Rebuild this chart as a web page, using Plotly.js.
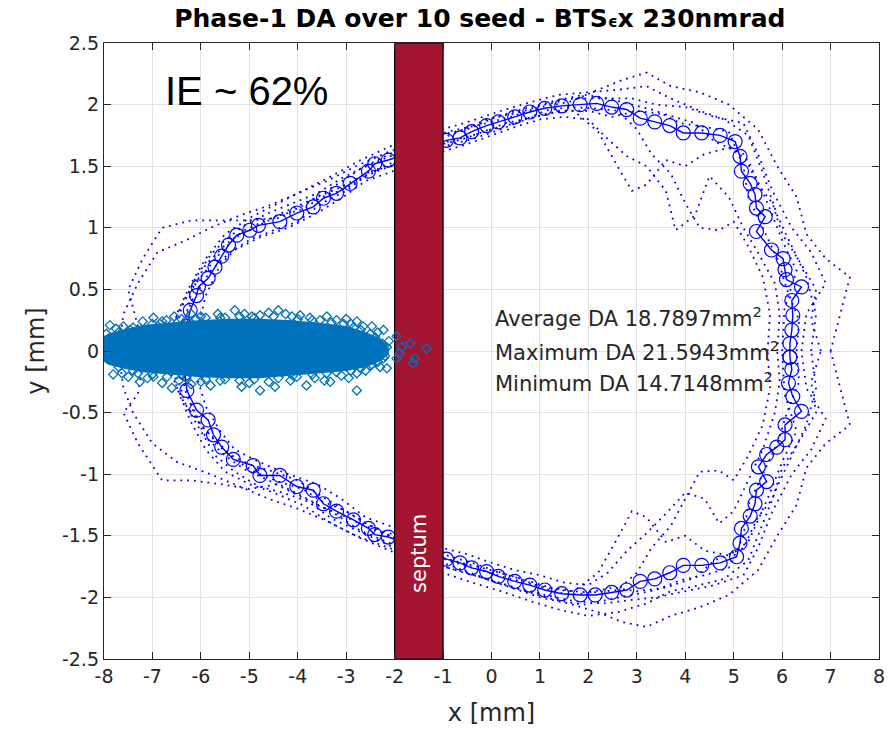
<!DOCTYPE html>
<html>
<head>
<meta charset="utf-8">
<script src="https://cdn.plot.ly/plotly-3.0.1.min.js"></script>
<style>html,body{margin:0;padding:0;background:#fff;}#chart{width:891px;height:731px;}</style>
</head>
<body>
<div id="chart"></div>
<script>
// ---- Data ----
var titleText = "Phase-1 DA over 10 seed - BTS<span style='font-size:0.6em'>ϵ</span>x 230nmrad";
var xTicks = [-8,-7,-6,-5,-4,-3,-2,-1,0,1,2,3,4,5,6,7,8];
var yTicks = [-2.5,-2,-1.5,-1,-0.5,0,0.5,1,1.5,2,2.5];
var statLabels = ["Average DA 18.7897mm<sup>2</sup>", "Maximum DA 21.5943mm<sup>2</sup>", "Minimum DA 14.7148mm<sup>2</sup>"];
var ieLabel = "IE ~ 62%";
var septumX = [-2, -1];

// average DA over seeds (x, y in mm)
var avgX = [6.16,6.16,6.20,6.22,6.20,6.40,6.09,6.06,6.02,5.78,5.47,5.65,5.47,5.44,5.34,5.16,5.13,5.03,4.72,4.34,3.96,3.68,3.37,3.07,2.79,2.48,2.17,1.83,1.45,1.10,0.79,0.48,0.14,-0.10,-0.41,-0.65,-0.93,-1.5,-2.13,-2.41,-2.54,-2.92,-3.20,-3.47,-3.68,-4.02,-4.37,-4.81,-4.99,-5.26,-5.43,-5.57,-5.71,-5.85,-6.05,-6.09,-6.22,-6.30,-6.35,-6.35,-6.33,-6.29,-6.09,-5.85,-5.74,-5.57,-5.33,-4.92,-4.78,-4.37,-4.02,-3.68,-3.47,-3.20,-2.85,-2.54,-2.41,-2.13,-1.5,-0.93,-0.65,-0.41,-0.10,0.14,0.48,0.79,1.10,1.45,1.83,2.14,2.48,2.79,3.07,3.37,3.68,3.96,4.34,4.72,5.06,5.13,5.16,5.34,5.44,5.47,5.68,5.51,5.68,5.89,6.06,6.06,6.40,6.22,6.13,6.20,6.16];
var avgY = [-0.05,0.06,0.17,0.29,0.41,0.52,0.58,0.66,0.75,0.82,0.97,1.09,1.16,1.27,1.36,1.46,1.58,1.70,1.75,1.77,1.77,1.83,1.86,1.89,1.96,1.98,2.01,2.00,1.99,1.97,1.94,1.90,1.86,1.83,1.78,1.73,1.71,1.63,1.55,1.52,1.46,1.36,1.28,1.24,1.17,1.12,1.05,1.02,0.98,0.94,0.86,0.77,0.68,0.59,0.52,0.45,0.33,0.20,0.08,-0.05,-0.18,-0.32,-0.48,-0.56,-0.68,-0.78,-0.88,-0.93,-1.01,-1.01,-1.10,-1.13,-1.24,-1.30,-1.37,-1.44,-1.49,-1.51,-1.60,-1.69,-1.72,-1.76,-1.79,-1.83,-1.87,-1.90,-1.94,-1.97,-1.98,-1.98,-1.96,-1.94,-1.87,-1.85,-1.80,-1.74,-1.74,-1.72,-1.67,-1.56,-1.44,-1.34,-1.24,-1.13,-1.06,-0.94,-0.84,-0.78,-0.72,-0.60,-0.49,-0.37,-0.26,-0.15,-0.05];

// individual seeds (x, y pairs in mm)
var seedA = [[6.6,0],[6.7,0.3],[6.5,0.6],[6.2,0.85],[5.9,1.1],[5.6,1.45],[5.3,1.75],[4.8,1.88],[4.3,1.95],[3.7,2.05],[3.2,2.15],[2.6,2.12],[2.0,2.1],[1.4,2.08],[0.8,2.02],[0.2,1.95],[-0.4,1.87],[-1.0,1.8],[-2.1,1.66],[-2.7,1.55],[-3.3,1.42],[-3.9,1.3],[-4.5,1.18],[-5.0,1.08],[-5.5,0.95],[-5.9,0.75],[-6.2,0.55],[-6.5,0.3],[-6.6,0],[-6.5,-0.3],[-6.2,-0.58],[-5.9,-0.8],[-5.5,-0.98],[-5.0,-1.08],[-4.5,-1.15],[-3.9,-1.25],[-3.3,-1.4],[-2.7,-1.52],[-2.1,-1.62],[-1.0,-1.8],[-0.4,-1.88],[0.2,-1.95],[0.8,-2.03],[1.4,-2.1],[2.0,-2.15],[2.6,-2.12],[3.2,-2.05],[3.7,-1.95],[4.3,-1.9],[4.8,-1.85],[5.3,-1.7],[5.6,-1.4],[5.9,-1.1],[6.2,-0.85],[6.5,-0.6],[6.7,-0.3],[6.6,0]];
var seedB = [[5.9,0],[5.95,0.3],[5.85,0.55],[5.5,0.8],[5.2,1.0],[4.9,1.25],[4.5,1.42],[4.2,1.1],[3.8,0.98],[3.6,1.3],[3.2,1.5],[2.8,1.58],[2.4,1.72],[2.0,1.88],[1.5,1.9],[1.0,1.88],[0.5,1.82],[0,1.75],[-0.5,1.68],[-1.0,1.62],[-2.1,1.45],[-2.6,1.38],[-3.1,1.24],[-3.6,1.12],[-4.2,1.0],[-4.8,0.92],[-5.3,0.82],[-5.6,0.7],[-5.9,0.45],[-6.05,0.2],[-6.1,0],[-6.05,-0.25],[-5.9,-0.45],[-5.6,-0.65],[-5.3,-0.8],[-4.8,-0.9],[-4.2,-1.0],[-3.6,-1.08],[-3.1,-1.2],[-2.6,-1.35],[-2.1,-1.42],[-1.0,-1.6],[-0.5,-1.65],[0,-1.72],[0.5,-1.78],[1.0,-1.82],[1.5,-1.88],[2.0,-1.9],[2.4,-1.8],[2.8,-1.62],[3.2,-1.48],[3.6,-1.32],[4.0,-1.15],[4.4,-1.2],[4.7,-1.4],[5.0,-1.3],[5.3,-1.05],[5.6,-0.8],[5.85,-0.5],[5.95,-0.25],[5.9,0]];
var seedC = [[7.0,0],[7.2,0.3],[7.4,0.6],[6.9,0.75],[6.5,0.95],[6.3,1.25],[5.9,1.5],[5.5,1.8],[4.9,2.0],[4.3,2.1],[3.7,2.15],[3.2,2.26],[2.7,2.2],[2.2,2.12],[1.6,2.02],[1.0,1.98],[0.4,1.9],[-0.2,1.84],[-0.9,1.78],[-2.1,1.62],[-2.8,1.5],[-3.4,1.38],[-4.0,1.28],[-4.6,1.18],[-5.2,1.1],[-5.8,1.0],[-6.3,0.9],[-6.9,0.8],[-7.3,0.55],[-7.6,0.3],[-7.7,0],[-7.6,-0.3],[-7.4,-0.5],[-7.0,-0.75],[-6.5,-0.9],[-5.8,-1.0],[-5.2,-1.1],[-4.6,-1.2],[-4.0,-1.28],[-3.4,-1.38],[-2.8,-1.5],[-2.1,-1.6],[-0.9,-1.76],[-0.2,-1.84],[0.4,-1.92],[1.0,-2.0],[1.6,-2.05],[2.2,-2.12],[2.7,-2.2],[3.2,-2.24],[3.7,-2.15],[4.3,-2.08],[4.9,-1.98],[5.5,-1.78],[5.9,-1.5],[6.3,-1.25],[6.5,-0.95],[6.9,-0.75],[7.4,-0.6],[7.2,-0.3],[7.0,0]];
var seedD = [[6.0,0],[6.05,0.35],[6.3,0.65],[6.0,0.9],[5.7,1.2],[5.3,1.55],[4.9,1.65],[4.4,1.6],[4.0,1.5],[3.6,1.55],[3.2,1.35],[2.9,1.3],[2.6,1.5],[2.2,1.78],[1.7,1.95],[1.2,1.93],[0.7,1.88],[0.2,1.8],[-0.4,1.72],[-1.0,1.66],[-2.1,1.5],[-2.6,1.42],[-3.0,1.3],[-3.5,1.2],[-4.0,1.05],[-4.5,0.98],[-5.0,0.9],[-5.4,0.8],[-5.8,0.65],[-6.2,0.4],[-6.4,0.15],[-6.45,-0.1],[-6.3,-0.35],[-6.0,-0.6],[-5.5,-0.82],[-5.0,-0.92],[-4.5,-0.98],[-4.0,-1.05],[-3.5,-1.18],[-3.0,-1.3],[-2.6,-1.4],[-2.1,-1.48],[-1.0,-1.65],[-0.4,-1.72],[0.2,-1.8],[0.7,-1.86],[1.2,-1.92],[1.7,-1.95],[2.2,-1.8],[2.6,-1.52],[2.9,-1.3],[3.2,-1.35],[3.6,-1.55],[4.0,-1.5],[4.4,-1.62],[4.9,-1.66],[5.3,-1.55],[5.7,-1.2],[6.0,-0.9],[6.3,-0.65],[6.05,-0.35],[6.0,0]];
var seedE = [[6.4,0],[6.5,0.3],[6.9,0.55],[6.6,0.8],[6.2,1.0],[5.8,1.3],[5.5,1.6],[5.2,1.85],[4.6,1.9],[4.0,1.98],[3.4,2.0],[2.9,2.05],[2.3,2.05],[1.7,2.05],[1.1,2.0],[0.5,1.93],[-0.1,1.88],[-0.8,1.76],[-2.1,1.58],[-2.7,1.48],[-3.2,1.35],[-3.8,1.2],[-4.4,1.08],[-5.0,1.06],[-5.6,1.06],[-6.2,1.06],[-6.8,1.0],[-7.2,0.75],[-7.5,0.5],[-7.3,0.2],[-7.2,-0.1],[-7.3,-0.35],[-7.6,-0.5],[-7.3,-0.75],[-6.8,-1.05],[-6.2,-1.05],[-5.6,-1.08],[-5.0,-1.12],[-4.4,-1.08],[-3.8,-1.2],[-3.2,-1.33],[-2.7,-1.46],[-2.1,-1.56],[-0.8,-1.75],[-0.1,-1.85],[0.5,-1.92],[1.1,-1.98],[1.7,-2.03],[2.3,-2.05],[2.9,-2.02],[3.4,-2.0],[4.0,-1.95],[4.6,-1.9],[5.2,-1.82],[5.5,-1.6],[5.8,-1.3],[6.2,-1.0],[6.6,-0.8],[6.9,-0.55],[6.5,-0.3],[6.4,0]];
var seedF = [[6.3,0],[6.35,0.25],[6.1,0.5],[5.9,0.75],[5.6,1.0],[5.3,1.25],[5.2,1.5],[4.9,1.78],[4.4,1.82],[3.9,1.85],[3.4,1.95],[2.9,2.0],[2.4,2.05],[1.9,2.08],[1.3,2.03],[0.7,1.97],[0.1,1.9],[-0.5,1.8],[-1.0,1.76],[-2.1,1.6],[-2.6,1.5],[-3.1,1.4],[-3.6,1.28],[-4.1,1.2],[-4.6,1.12],[-5.1,1.02],[-5.5,0.9],[-5.8,0.78],[-6.1,0.6],[-6.4,0.35],[-6.55,0.1],[-6.5,-0.2],[-6.3,-0.45],[-6.0,-0.65],[-5.7,-0.85],[-5.3,-0.98],[-4.8,-1.1],[-4.3,-1.15],[-3.8,-1.22],[-3.3,-1.36],[-2.8,-1.45],[-2.1,-1.58],[-1.0,-1.75],[-0.5,-1.8],[0.1,-1.88],[0.7,-1.95],[1.3,-2.02],[1.9,-2.06],[2.4,-2.02],[2.9,-1.98],[3.4,-1.94],[3.9,-1.86],[4.4,-1.82],[4.9,-1.76],[5.2,-1.5],[5.3,-1.25],[5.6,-1.0],[5.9,-0.75],[6.1,-0.5],[6.35,-0.25],[6.3,0]];
var seedG = [[6.8,0],[6.6,0.25],[6.7,0.5],[6.4,0.7],[6.0,0.95],[5.8,1.2],[5.5,1.35],[5.2,1.6],[4.6,1.7],[4.2,1.85],[3.6,1.92],[3.0,1.95],[2.5,1.9],[2.0,1.95],[1.4,1.95],[0.9,1.9],[0.3,1.85],[-0.3,1.76],[-0.9,1.7],[-2.1,1.52],[-2.5,1.45],[-3.0,1.32],[-3.5,1.25],[-3.9,1.15],[-4.4,1.1],[-4.9,1.0],[-5.3,0.92],[-5.7,0.75],[-6.0,0.6],[-6.3,0.45],[-6.6,0.2],[-6.7,0],[-6.6,-0.2],[-6.35,-0.42],[-6.0,-0.6],[-5.7,-0.72],[-5.3,-0.88],[-4.9,-0.98],[-4.4,-1.06],[-3.9,-1.12],[-3.5,-1.22],[-3.0,-1.3],[-2.5,-1.42],[-2.1,-1.5],[-0.9,-1.7],[-0.3,-1.77],[0.3,-1.84],[0.9,-1.9],[1.4,-1.94],[2.0,-1.96],[2.5,-1.92],[3.0,-1.95],[3.6,-1.92],[4.2,-1.84],[4.6,-1.7],[5.2,-1.6],[5.5,-1.35],[5.8,-1.2],[6.0,-0.95],[6.4,-0.7],[6.7,-0.5],[6.6,-0.25],[6.8,0]];
var seedH = [[5.7,0],[5.75,0.3],[5.6,0.6],[5.3,0.85],[5.0,1.05],[4.7,0.98],[4.3,1.0],[4.0,1.2],[3.7,1.44],[3.3,1.6],[3.0,1.8],[2.6,1.95],[2.1,1.97],[1.6,1.98],[1.1,1.95],[0.6,1.86],[0.0,1.8],[-0.6,1.72],[-1.0,1.68],[-2.1,1.5],[-2.6,1.44],[-3.1,1.33],[-3.6,1.25],[-4.1,1.16],[-4.6,1.07],[-5.1,0.98],[-5.5,0.86],[-5.9,0.7],[-6.2,0.48],[-6.35,0.2],[-6.4,0],[-6.35,-0.2],[-6.2,-0.45],[-5.9,-0.7],[-5.5,-0.85],[-5.1,-0.96],[-4.6,-1.05],[-4.1,-1.15],[-3.6,-1.25],[-3.1,-1.33],[-2.6,-1.42],[-2.1,-1.5],[-1.0,-1.68],[-0.6,-1.72],[0.0,-1.78],[0.6,-1.85],[1.1,-1.93],[1.6,-1.98],[2.1,-1.96],[2.6,-1.94],[3.0,-1.8],[3.3,-1.6],[3.7,-1.42],[4.0,-1.2],[4.3,-0.98],[4.7,-0.97],[5.0,-1.05],[5.3,-0.85],[5.6,-0.6],[5.75,-0.3],[5.7,0]];
var seeds = [seedA, seedB, seedC, seedD, seedE, seedF, seedG, seedH];

// injected particle cloud: dense core outline and scattered particles at its edge
var coreX = [-8.05,-7.9,-7.6,-7.2,-6.6,-6.0,-5.4,-4.8,-4.2,-3.6,-3.0,-2.6,-2.3,-2.15,-2.15,-2.3,-2.6,-3.0,-3.6,-4.2,-4.8,-5.4,-6.0,-6.6,-7.2,-7.6,-7.9,-8.05];
var coreY = [0.09,0.13,0.16,0.2,0.22,0.24,0.25,0.25,0.24,0.22,0.19,0.14,0.09,0.03,-0.02,-0.07,-0.12,-0.15,-0.17,-0.19,-0.21,-0.21,-0.2,-0.18,-0.16,-0.13,-0.1,-0.06];
var partX = [-7.95,-7.88,-7.75,-7.6,-7.46,-7.33,-7.2,-6.98,-6.85,-6.71,-6.55,-6.4,-6.2,-6.0,-5.78,-5.65,-5.5,-5.3,-5.1,-4.95,-4.78,-4.6,-4.4,-4.25,-4.12,-3.95,-3.75,-3.54,-3.4,-3.2,-3.0,-2.9,-2.78,-2.65,-2.47,-2.35,-2.23,-3.13,-2.58,-2.16,-2.12,
 -7.92,-7.81,-7.63,-7.5,-7.3,-7.26,-7.1,-6.98,-6.8,-6.6,-6.45,-6.2,-6.0,-5.8,-5.6,-5.36,-5.16,-5.0,-4.78,-4.6,-4.47,-4.3,-4.15,-4.02,-3.82,-3.65,-3.45,-3.33,-3.1,-2.95,-2.78,-2.78,-2.6,-2.47,-2.3,-2.23,-2.16,
 -7.7,-7.4,-7.0,-6.8,-6.3,-6.1,-5.9,-5.6,-5.2,-4.9,-4.5,-4.0,-3.7,-3.3,-3.05,-2.85,-2.7,-2.5,-2.4,-2.25,
 -7.7,-7.4,-7.0,-6.7,-6.3,-5.9,-5.5,-5.2,-4.9,-4.4,-4.1,-3.7,-3.4,-3.2,-2.9,-2.7,-2.5,-2.35,-2.2,
 -1.96,-1.85,-1.68,-1.96,-1.58,-1.34,-1.9,-1.62];
var partY = [0.14,0.21,0.18,0.2,0.17,0.1,0.24,0.27,0.22,0.25,0.28,0.26,0.3,0.28,0.19,0.3,0.27,0.33,0.3,0.28,0.29,0.31,0.33,0.3,0.28,0.29,0.27,0.25,0.28,0.25,0.26,0.22,0.24,0.2,0.2,0.15,0.17,0.13,0.1,0.03,0.08,
 -0.05,-0.19,-0.18,-0.21,-0.18,-0.25,-0.22,-0.21,-0.26,-0.3,-0.24,-0.27,-0.25,-0.28,-0.24,-0.15,-0.29,-0.26,-0.32,-0.25,-0.29,-0.17,-0.24,-0.21,-0.28,-0.22,-0.24,-0.25,-0.2,-0.22,-0.18,-0.32,-0.16,-0.11,-0.13,-0.06,-0.14,
 0.15,0.19,0.22,0.24,0.25,0.26,0.27,0.27,0.28,0.27,0.28,0.26,0.25,0.23,0.22,0.19,0.17,0.14,0.11,0.06,
 -0.13,-0.16,-0.19,-0.21,-0.22,-0.23,-0.23,-0.24,-0.23,-0.22,-0.2,-0.19,-0.18,-0.17,-0.16,-0.14,-0.12,-0.09,-0.04,
 0.12,0.03,0.06,-0.06,-0.06,0.02,-0.02,-0.1];

// ---- Traces ----
var traces = [];
seeds.forEach(function(s){
  traces.push({x: s.map(function(p){return p[0];}), y: s.map(function(p){return p[1];}),
    type:'scatter', mode:'lines', line:{color:'#0000FF', width:1.8, dash:'1.8px,5px'}, hoverinfo:'skip'});
});
traces.push({x: avgX, y: avgY, type:'scatter', mode:'lines+markers',
  line:{color:'#0000FF', width:1.4}, marker:{symbol:'circle-open', size:14, color:'#0000FF', line:{width:1.2, color:'#0000FF'}}});
traces.push({x:[septumX[0],septumX[1],septumX[1],septumX[0],septumX[0]], y:[-2.5,-2.5,2.5,2.5,-2.5],
  type:'scatter', mode:'lines', fill:'toself', fillcolor:'#A2142F', line:{color:'#000000', width:1.2}});
traces.push({x: coreX, y: coreY, type:'scatter', mode:'lines', fill:'toself', fillcolor:'#0072BD', line:{color:'#0072BD', width:3}});
traces.push({x: partX, y: partY, type:'scatter', mode:'markers',
  marker:{symbol:'diamond-open', size:7, color:'#0072BD', line:{width:1.3, color:'#0072BD'}}});

var annotations = [
  {x:-6.78, y:2.11, xref:'x', yref:'y', text:ieLabel, showarrow:false, xanchor:'left', yanchor:'middle',
   font:{family:'Liberation Sans, Arial, sans-serif', size:40, color:'#000000'}},
  {x:-1.5, y:-1.64, xref:'x', yref:'y', text:'septum', showarrow:false, textangle:-90,
   font:{family:'DejaVu Sans, sans-serif', size:21, color:'#FFFFFF'}}
];
var statY = [0.28, 0.0, -0.25];
statLabels.forEach(function(t, i){
  annotations.push({x:0.03, y:statY[i], xref:'x', yref:'y', text:t, showarrow:false, xanchor:'left', yanchor:'middle',
    font:{family:'DejaVu Sans, sans-serif', size:21, color:'#262626'}});
});

var axisCommon = {
  showline:true, linecolor:'#262626', linewidth:1.2, mirror:'ticks',
  ticks:'inside', ticklen:7, tickwidth:1, tickcolor:'#262626',
  showgrid:true, gridcolor:'#E3E3E3', gridwidth:1, zeroline:false,
  tickfont:{family:'DejaVu Sans, sans-serif', size:19, color:'#262626'}
};
var layout = {
  width:891, height:731,
  margin:{l:104, r:12, t:43, b:72},
  paper_bgcolor:'#FFFFFF', plot_bgcolor:'#FFFFFF',
  showlegend:false,
  title:{text:titleText, x:0.485, xref:'paper', y:0.975, yref:'container', xanchor:'center', yanchor:'middle',
    font:{family:'DejaVu Sans, sans-serif', size:25, color:'#000000', weight:'bold'}},
  xaxis:Object.assign({}, axisCommon, {range:[-8,8], tickvals:xTicks, ticktext:xTicks.map(String),
    title:{text:'x [mm]', standoff:18, font:{family:'DejaVu Sans, sans-serif', size:24, color:'#262626'}}}),
  yaxis:Object.assign({}, axisCommon, {range:[-2.5,2.5], tickvals:yTicks, ticktext:yTicks.map(String),
    title:{text:'y [mm]', standoff:10, font:{family:'DejaVu Sans, sans-serif', size:24, color:'#262626'}}}),
  annotations:annotations
};
Plotly.newPlot('chart', traces, layout, {displayModeBar:false, staticPlot:true});
</script>
</body>
</html>
